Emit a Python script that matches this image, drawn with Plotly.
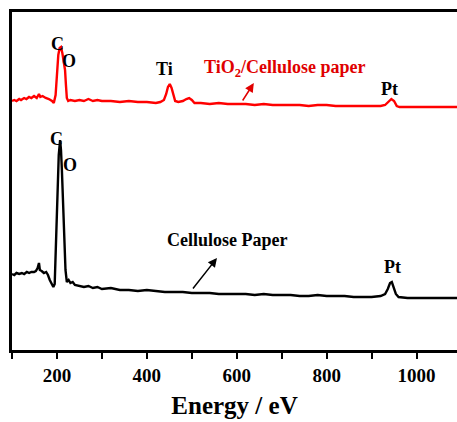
import plotly.graph_objects as go

# Energy (eV) and intensity (a.u.)
red_energy = [100, 105, 110, 116, 120, 127, 132, 138, 143, 149, 155, 160, 163, 168, 175, 182, 189, 193, 197,
              200, 203, 206, 209, 212, 215, 218, 220, 222, 225, 230, 240, 250, 260, 270, 280, 290, 300, 320,
              340, 360, 380, 400, 420, 430, 438, 443, 447, 451, 455, 459, 463, 470, 480, 488, 494, 500, 506,
              520, 540, 560, 580, 600, 620, 640, 660, 680, 700, 720, 740, 760, 780, 800, 820, 840, 860, 880,
              900, 920, 930, 937, 944, 950, 956, 962, 980, 1000, 1020, 1040, 1060, 1080, 1090]
red_intensity = [249, 250, 249, 251, 250, 252, 251, 253, 252, 254, 252, 256, 253, 254, 252, 251, 249, 247, 255,
                 275, 295, 302, 303, 297, 290, 280, 265, 252, 249, 250, 249, 250, 249, 251, 249, 250, 249, 249,
                 248, 249, 248, 248, 247, 248, 250, 256, 263, 266, 262, 254, 249, 248, 249, 251, 252, 250, 247,
                 247, 246, 247, 246, 246, 246, 245, 246, 245, 245, 245, 245, 244, 245, 245, 244, 244, 244, 244,
                 244, 244, 245, 248, 251, 249, 244, 243, 243, 243, 243, 243, 243, 243, 243]

black_energy = [100, 105, 110, 116, 122, 127, 133, 138, 143, 149, 153, 157, 160, 162, 166, 171, 176, 180, 184,
                188, 192, 195, 198, 201, 204, 207, 209, 211, 213, 215, 217, 219, 222, 226, 230, 235, 240, 250,
                260, 270, 280, 290, 300, 320, 340, 360, 380, 400, 420, 440, 460, 480, 500, 520, 540, 560, 580,
                600, 620, 640, 660, 680, 700, 720, 740, 760, 780, 800, 820, 840, 860, 880, 900, 920, 930, 936,
                941, 945, 949, 954, 960, 980, 1000, 1020, 1040, 1060, 1080, 1090]
black_intensity = [76, 75, 77, 76, 77, 76, 78, 77, 78, 78, 79, 82, 87, 80, 79, 77, 78, 75, 70,
                   66, 63, 66, 110, 160, 195, 210, 200, 180, 150, 125, 100, 80, 68, 70, 67, 68, 65, 64,
                   63, 64, 62, 63, 61, 62, 60, 60, 59, 60, 59, 58, 58, 58, 57, 57, 57, 56, 56,
                   56, 56, 55, 56, 55, 55, 55, 54, 54, 55, 54, 54, 54, 53, 53, 53, 54, 56, 61,
                   67, 68, 63, 56, 53, 52, 52, 52, 52, 52, 52, 52]

tick_vals = [100, 200, 300, 400, 500, 600, 700, 800, 900, 1000]
tick_text = ["", "200", "", "400", "", "600", "", "800", "", "1000"]

FONT = "Liberation Serif, Times New Roman, serif"

fig = go.Figure()
fig.add_trace(go.Scatter(x=red_energy, y=red_intensity, mode="lines",
                         line=dict(color="#ff0000", width=2.4), showlegend=False))
fig.add_trace(go.Scatter(x=black_energy, y=black_intensity, mode="lines",
                         line=dict(color="#000000", width=2.4), showlegend=False))

def label(x, y, text, color="black", size=18):
    fig.add_annotation(x=x, y=y, xref="x", yref="y", text="<b>" + text + "</b>",
                       showarrow=False,
                       font=dict(family=FONT, size=size, color=color))

label(202, 306, "C")
label(226, 289, "O")
label(440, 281, "Ti")
label(707, 282, "TiO<sub>2</sub>/Cellulose paper", color="#e00000", size=18)
label(940, 261, "Pt")
label(198, 211, "C")
label(229, 185, "O")
label(578, 110, "Cellulose Paper", size=18)
label(947, 83, "Pt")

def arrow(x0, y0, x1, y1, color):
    fig.add_annotation(x=x1, y=y1, ax=x0, ay=y0, xref="x", yref="y", axref="x", ayref="y",
                       text="", showarrow=True, arrowhead=2, arrowsize=1.2, arrowwidth=1.5,
                       arrowcolor=color)

arrow(611, 248, 638, 267, "#e00000")
arrow(500, 60, 556, 92, "black")

fig.update_layout(
    width=457, height=422,
    margin=dict(l=12, r=0, t=12, b=72),
    paper_bgcolor="white", plot_bgcolor="white",
    font=dict(family=FONT, color="black"),
    xaxis=dict(range=[100, 1090], showgrid=False, zeroline=False,
               showline=True, linecolor="black", linewidth=2.5, mirror=True,
               tickmode="array", tickvals=tick_vals,
               ticktext=[("<b>" + t + "</b>") if t else "" for t in tick_text],
               ticks="outside", ticklen=6, tickwidth=2, tickcolor="black",
               tickfont=dict(family=FONT, size=19, color="black"),
               title=dict(text="<b>Energy / eV</b>",
                          font=dict(family=FONT, size=25, color="black"),
                          standoff=12)),
    yaxis=dict(range=[0, 338], showgrid=False, zeroline=False,
               showline=True, linecolor="black", linewidth=2.5, mirror=False,
               showticklabels=False, ticks=""),
)

fig.write_html("out.html")
